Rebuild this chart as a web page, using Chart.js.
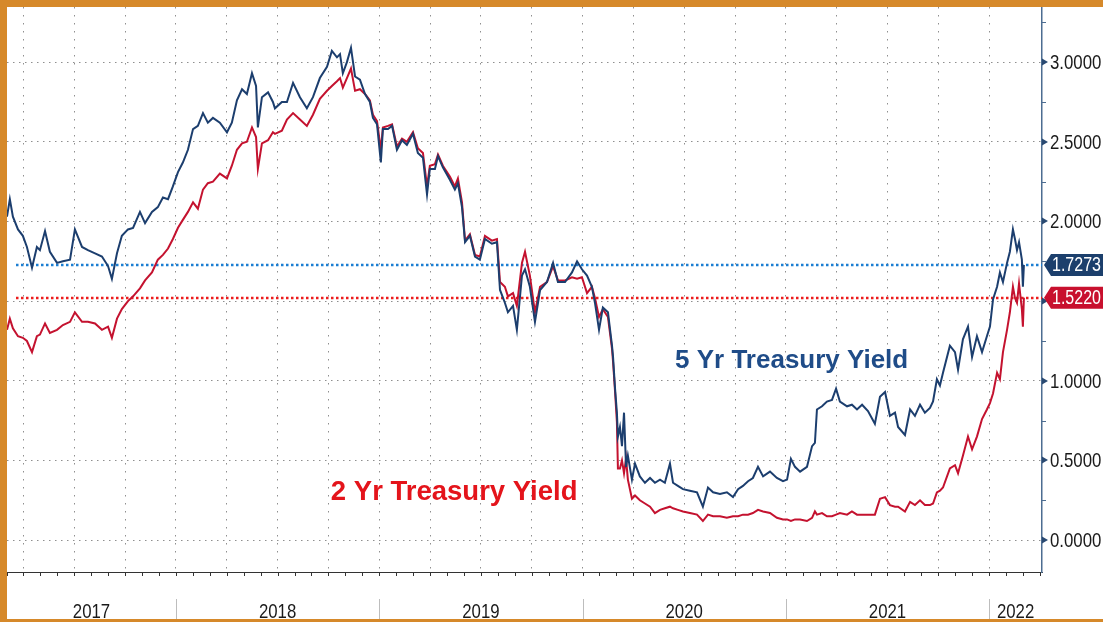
<!DOCTYPE html>
<html>
<head>
<meta charset="utf-8">
<script src="https://cdn.jsdelivr.net/npm/chart.js@4.4.1/dist/chart.umd.min.js"></script>
<style>
  html, body { margin: 0; padding: 0; background: #fff; }
  #wrap { width: 1103px; height: 622px; }
</style>
</head>
<body>
<div id="wrap"><canvas id="yieldChart" width="1103" height="622"></canvas></div>
<script>
// dates as fractional years
const dates = [
  2017.169, 2017.183, 2017.198, 2017.223, 2017.247, 2017.267, 2017.292, 2017.316, 2017.331, 2017.356,
  2017.380, 2017.415, 2017.444, 2017.479, 2017.503, 2017.538, 2017.567, 2017.602, 2017.636, 2017.666,
  2017.685, 2017.710, 2017.734, 2017.764, 2017.789, 2017.823, 2017.848, 2017.882, 2017.911, 2017.936,
  2017.961, 2017.985, 2018.010, 2018.034, 2018.059, 2018.084, 2018.108, 2018.133, 2018.157, 2018.182,
  2018.216, 2018.251, 2018.275, 2018.300, 2018.325, 2018.349, 2018.374, 2018.394, 2018.403, 2018.423,
  2018.453, 2018.477, 2018.487, 2018.521, 2018.546, 2018.576, 2018.610, 2018.644, 2018.674, 2018.708,
  2018.743, 2018.767, 2018.792, 2018.807, 2018.821, 2018.841, 2018.861, 2018.881, 2018.905, 2018.930,
  2018.954, 2018.969, 2018.989, 2019.008, 2019.018, 2019.043, 2019.063, 2019.087, 2019.112, 2019.136,
  2019.166, 2019.190, 2019.215, 2019.235, 2019.249, 2019.274, 2019.289, 2019.313, 2019.348, 2019.372,
  2019.387, 2019.407, 2019.422, 2019.446, 2019.471, 2019.495, 2019.520, 2019.554, 2019.579, 2019.594,
  2019.618, 2019.633, 2019.658, 2019.677, 2019.702, 2019.717, 2019.741, 2019.766, 2019.791, 2019.825,
  2019.855, 2019.879, 2019.914, 2019.948, 2019.973, 2019.997, 2020.022, 2020.046, 2020.061, 2020.081,
  2020.100, 2020.125, 2020.145, 2020.150, 2020.160, 2020.169, 2020.174, 2020.184, 2020.194, 2020.204,
  2020.214, 2020.223, 2020.243, 2020.258, 2020.282, 2020.307, 2020.332, 2020.356, 2020.381, 2020.405,
  2020.430, 2020.445, 2020.469, 2020.494, 2020.528, 2020.563, 2020.592, 2020.617, 2020.642, 2020.676,
  2020.710, 2020.740, 2020.765, 2020.789, 2020.814, 2020.838, 2020.863, 2020.888, 2020.922, 2020.956,
  2020.986, 2021.006, 2021.025, 2021.045, 2021.070, 2021.104, 2021.129, 2021.143, 2021.153, 2021.178,
  2021.202, 2021.227, 2021.247, 2021.266, 2021.301, 2021.325, 2021.350, 2021.375, 2021.404, 2021.438,
  2021.463, 2021.488, 2021.512, 2021.537, 2021.552, 2021.586, 2021.611, 2021.635, 2021.660, 2021.684,
  2021.709, 2021.724, 2021.743, 2021.758, 2021.773, 2021.807, 2021.832, 2021.847, 2021.871, 2021.896,
  2021.916, 2021.940, 2021.965, 2021.989, 2022.004, 2022.019, 2022.039, 2022.053, 2022.068, 2022.088,
  2022.102, 2022.117, 2022.127, 2022.137, 2022.147, 2022.161, 2022.166, 2022.171
];

const fiveYr = [
  2.03, 2.14, 2.03, 1.95, 1.91, 1.84, 1.71, 1.84, 1.82, 1.94,
  1.81, 1.74, 1.75, 1.76, 1.95, 1.84, 1.82, 1.80, 1.78, 1.72,
  1.64, 1.80, 1.91, 1.95, 1.96, 2.06, 1.99, 2.06, 2.09, 2.15,
  2.14, 2.22, 2.31, 2.37, 2.45, 2.58, 2.60, 2.68, 2.62, 2.65,
  2.62, 2.56, 2.62, 2.76, 2.83, 2.80, 2.93, 2.85, 2.59, 2.78,
  2.81, 2.75, 2.71, 2.75, 2.75, 2.87, 2.78, 2.71, 2.78, 2.90,
  2.97, 3.07, 3.03, 3.05, 2.93, 3.00, 3.09, 2.91, 2.89, 2.80,
  2.75, 2.65, 2.61, 2.37, 2.58, 2.58, 2.60, 2.45, 2.51, 2.48,
  2.55, 2.43, 2.40, 2.17, 2.33, 2.33, 2.41, 2.34, 2.26, 2.20,
  2.24, 2.09, 1.87, 1.91, 1.78, 1.76, 1.89, 1.86, 1.87, 1.57,
  1.49, 1.43, 1.47, 1.32, 1.66, 1.70, 1.59, 1.37, 1.57, 1.62,
  1.74, 1.62, 1.62, 1.68, 1.75, 1.70, 1.66, 1.59, 1.49, 1.32,
  1.46, 1.43, 1.22, 1.15, 0.95, 0.80, 0.65, 0.71, 0.59, 0.80,
  0.46, 0.53, 0.38, 0.48, 0.40, 0.36, 0.39, 0.36, 0.38, 0.36,
  0.48, 0.36, 0.34, 0.32, 0.31, 0.30, 0.21, 0.33, 0.30, 0.29,
  0.30, 0.27, 0.32, 0.34, 0.37, 0.39, 0.46, 0.40, 0.43, 0.39,
  0.37, 0.38, 0.51, 0.46, 0.43, 0.46, 0.59, 0.61, 0.82, 0.84,
  0.87, 0.88, 0.95, 0.87, 0.84, 0.85, 0.82, 0.85, 0.81, 0.73,
  0.90, 0.93, 0.78, 0.80, 0.71, 0.66, 0.82, 0.78, 0.85, 0.80,
  0.83, 0.87, 1.01, 0.97, 1.05, 1.22, 1.18, 1.07, 1.26, 1.34,
  1.15, 1.28, 1.18, 1.28, 1.34, 1.51, 1.59, 1.68, 1.62, 1.74,
  1.81, 1.95, 1.89, 1.82, 1.87, 1.76, 1.59, 1.7273
];

const twoYr = [
  1.32, 1.39, 1.33, 1.28, 1.27, 1.25, 1.18, 1.28, 1.29, 1.36,
  1.30, 1.32, 1.35, 1.37, 1.43, 1.37, 1.37, 1.36, 1.32, 1.34,
  1.27, 1.39, 1.45, 1.50, 1.53, 1.58, 1.63, 1.68, 1.76, 1.79,
  1.83, 1.89, 1.96, 2.01, 2.06, 2.12, 2.08, 2.20, 2.24, 2.25,
  2.30, 2.27, 2.35, 2.45, 2.49, 2.50, 2.59, 2.53, 2.33, 2.49,
  2.51, 2.56, 2.55, 2.57, 2.64, 2.68, 2.64, 2.60, 2.67, 2.77,
  2.82, 2.85, 2.88, 2.90, 2.84, 2.90, 2.96, 2.82, 2.83, 2.80,
  2.76, 2.67, 2.63, 2.45, 2.59, 2.60, 2.61, 2.47, 2.52, 2.50,
  2.56, 2.46, 2.43, 2.22, 2.35, 2.36, 2.42, 2.35, 2.28, 2.22,
  2.27, 2.12, 1.88, 1.92, 1.79, 1.78, 1.91, 1.88, 1.89, 1.62,
  1.59, 1.53, 1.55, 1.47, 1.74, 1.81, 1.66, 1.43, 1.59, 1.62,
  1.72, 1.63, 1.63, 1.65, 1.64, 1.65, 1.55, 1.59, 1.52, 1.40,
  1.45, 1.40, 1.20, 1.12, 0.93, 0.74, 0.45, 0.45, 0.50, 0.42,
  0.51, 0.38, 0.26, 0.28, 0.25, 0.23, 0.21, 0.17, 0.19, 0.20,
  0.21, 0.20, 0.19, 0.18, 0.17, 0.16, 0.12, 0.16, 0.15, 0.15,
  0.14, 0.15, 0.15, 0.16, 0.16, 0.17, 0.19, 0.18, 0.17, 0.14,
  0.13, 0.13, 0.12, 0.13, 0.13, 0.12, 0.14, 0.18, 0.16, 0.17,
  0.15, 0.15, 0.16, 0.17, 0.16, 0.18, 0.16, 0.16, 0.16, 0.16,
  0.26, 0.27, 0.22, 0.21, 0.21, 0.18, 0.24, 0.22, 0.25, 0.22,
  0.22, 0.23, 0.30, 0.31, 0.33, 0.45, 0.47, 0.42, 0.53, 0.65,
  0.57, 0.65, 0.76, 0.82, 0.86, 0.92, 1.05, 1.01, 1.18, 1.32,
  1.43, 1.59, 1.52, 1.49, 1.61, 1.45, 1.34, 1.5220
];

const years = [2017, 2018, 2019, 2020, 2021, 2022];
const quarterTicks = [
  2017.25, 2017.5, 2017.75, 2018, 2018.25, 2018.5, 2018.75, 2019, 2019.25, 2019.5, 2019.75,
  2020, 2020.25, 2020.5, 2020.75, 2021, 2021.25, 2021.5, 2021.75, 2022
];
const yTicks = [0, 0.5, 1.0, 1.5, 2.0, 2.5, 3.0];

const SANS = "'Liberation Sans', Arial, sans-serif";
const SQUEEZE = 0.8;   // condensed look for axis text
const ORANGE = '#d6892a';

const lastMarks = [
  {value: fiveYr[fiveYr.length - 1], dot: '#1b7ed2', box: '#1c3f6c'},
  {value: twoYr[twoYr.length - 1], dot: '#ec1c1c', box: '#c8102e'},
];

const notes = [
  {text: '5 Yr Treasury Yield', x: 2020.455, y: 1.08, size: 26, color: '#1f4c88'},
  {text: '2 Yr Treasury Yield', x: 2018.762, y: 0.251, size: 27.5, color: '#e4141b'},
];

function narrowText(ctx, text, x, y, align) {
  ctx.save();
  ctx.translate(x, y);
  ctx.scale(SQUEEZE, 1);
  ctx.textAlign = align;
  ctx.fillText(text, 0, 0);
  ctx.restore();
}

const decor = {
  id: 'decor',
  beforeDraw(chart) {
    const {ctx, width, height} = chart;
    ctx.save();
    ctx.fillStyle = '#fff';
    ctx.fillRect(0, 0, width, height);
    ctx.restore();
  },
  beforeDatasetsDraw(chart) {
    const {ctx, chartArea: a, scales: {y}} = chart;
    ctx.save();
    ctx.lineWidth = 2.5;
    ctx.setLineDash([2.5, 2.5]);
    lastMarks.forEach(m => {
      const py = Math.round(y.getPixelForValue(m.value));
      ctx.strokeStyle = m.dot;
      ctx.beginPath();
      ctx.moveTo(a.left + 9, py);
      ctx.lineTo(a.right, py);
      ctx.stroke();
    });
    ctx.restore();
  },
  afterDraw(chart) {
    const {ctx, chartArea: a, scales: {x, y}, width, height} = chart;
    ctx.save();

    // monthly ticks on the bottom axis
    ctx.strokeStyle = '#333';
    ctx.lineWidth = 1;
    years.forEach(yr => {
      for (let m = 0; m < 12; m++) {
        const px = Math.round(x.getPixelForValue(yr + m / 12)) + 0.5;
        if (px < a.left || px > a.right) continue;
        ctx.beginPath();
        ctx.moveTo(px, a.bottom);
        ctx.lineTo(px, a.bottom + 4);
        ctx.stroke();
      }
    });

    // year separators and labels
    ctx.font = '21px ' + SANS;
    ctx.fillStyle = '#1a1a1a';
    ctx.textBaseline = 'middle';
    years.forEach(yr => {
      const x0 = x.getPixelForValue(yr);
      const x1 = x.getPixelForValue(yr + 1);
      if (x0 > a.left) {
        const px = Math.round(x0) + 0.5;
        ctx.strokeStyle = '#bdbdbd';
        ctx.beginPath();
        ctx.moveTo(px, a.bottom + 27);
        ctx.lineTo(px, height);
        ctx.stroke();
      }
      const l = Math.max(x0, a.left), r = Math.min(x1, a.right);
      narrowText(ctx, String(yr), (l + r) / 2, a.bottom + 40, 'center');
    });

    // right axis minor ticks, arrow marks and labels
    for (let k = -1; k <= 14; k++) {
      const v = k * 0.25;
      const py = Math.round(y.getPixelForValue(v));
      if (py < a.top || py > a.bottom) continue;
      if (k % 2 === 0) {
        ctx.fillStyle = '#2a4a72';
        ctx.beginPath();
        ctx.moveTo(a.right, py - 3.5);
        ctx.lineTo(a.right + 6, py);
        ctx.lineTo(a.right, py + 3.5);
        ctx.closePath();
        ctx.fill();
      } else {
        ctx.strokeStyle = '#4d6d91';
        ctx.beginPath();
        ctx.moveTo(a.right, py + 0.5);
        ctx.lineTo(a.right + 4, py + 0.5);
        ctx.stroke();
      }
    }
    ctx.fillStyle = '#1a1a1a';
    ctx.font = '21px ' + SANS;
    yTicks.forEach(v => {
      narrowText(ctx, v.toFixed(4), a.right + 8, y.getPixelForValue(v) + 1, 'left');
    });

    // last value boxes
    ctx.font = '20px ' + SANS;
    lastMarks.forEach(m => {
      const py = y.getPixelForValue(m.value);
      ctx.fillStyle = m.box;
      ctx.beginPath();
      ctx.moveTo(a.right + 2, py);
      ctx.lineTo(a.right + 9, py - 11);
      ctx.lineTo(width, py - 11);
      ctx.lineTo(width, py + 11);
      ctx.lineTo(a.right + 9, py + 11);
      ctx.closePath();
      ctx.fill();
      ctx.fillStyle = '#fff';
      narrowText(ctx, m.value.toFixed(4), a.right + 10, py + 1, 'left');
    });

    // series annotations
    ctx.textBaseline = 'alphabetic';
    ctx.textAlign = 'left';
    notes.forEach(n => {
      ctx.font = 'bold ' + n.size + 'px ' + SANS;
      ctx.fillStyle = n.color;
      ctx.fillText(n.text, x.getPixelForValue(n.x), y.getPixelForValue(n.y));
    });

    // orange frame
    ctx.fillStyle = ORANGE;
    ctx.fillRect(0, 0, 7, height);
    ctx.fillRect(0, 0, width, 7);
    ctx.fillRect(0, height - 3, width, 3);
    ctx.restore();
  }
};

new Chart(document.getElementById('yieldChart').getContext('2d'), {
  type: 'line',
  data: {
    datasets: [
      {
        label: '5 Yr Treasury Yield',
        data: dates.map((d, i) => ({x: d, y: fiveYr[i]})),
        borderColor: '#1c3e6e',
        borderWidth: 2,
        pointRadius: 0,
        tension: 0,
        fill: false
      },
      {
        label: '2 Yr Treasury Yield',
        data: dates.map((d, i) => ({x: d, y: twoYr[i]})),
        borderColor: '#c4122f',
        borderWidth: 2,
        pointRadius: 0,
        tension: 0,
        fill: false
      }
    ]
  },
  options: {
    responsive: false,
    animation: false,
    devicePixelRatio: 1,
    layout: {padding: {left: 7, top: 7, right: 0, bottom: 0}},
    plugins: {legend: {display: false}, tooltip: {enabled: false}},
    scales: {
      x: {
        type: 'linear',
        min: 2017.169,
        max: 2022.26,
        afterBuildTicks: s => { s.ticks = quarterTicks.map(v => ({value: v})); },
        afterFit: s => { s.height = 50; },
        ticks: {display: false},
        grid: {color: '#8f8f8f', lineWidth: 1, drawTicks: false},
        border: {display: true, color: '#333', width: 1, dash: [1.5, 6.5]}
      },
      y: {
        type: 'linear',
        position: 'right',
        min: -0.2,
        max: 3.346,
        afterBuildTicks: s => { s.ticks = yTicks.map(v => ({value: v})); },
        afterFit: s => { s.width = 61; },
        ticks: {display: false},
        grid: {color: '#8f8f8f', lineWidth: 1, drawTicks: false},
        border: {display: true, color: '#4d6d91', width: 1.5, dash: [1.5, 4.5]}
      }
    }
  },
  plugins: [decor]
});
</script>
</body>
</html>
